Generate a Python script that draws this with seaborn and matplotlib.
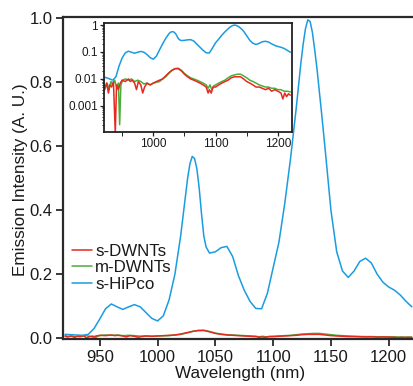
import matplotlib
matplotlib.use("Agg")
import matplotlib.pyplot as plt
import matplotlib.ticker as mticker
import pandas as pd
import seaborn as sns

# ---------------- data ----------------
hipco_wl = [920, 925, 930, 935, 940, 945, 950, 955, 960, 965, 970, 975, 980, 985, 990, 995,
            1000, 1005, 1010, 1015, 1020, 1024, 1026, 1028, 1030, 1032, 1034, 1036, 1038, 1040,
            1042, 1045, 1050, 1055, 1060, 1065, 1070, 1075, 1080, 1085, 1090, 1095, 1100, 1105,
            1110, 1115, 1120, 1124, 1126, 1128, 1130, 1132, 1134, 1136, 1138, 1140, 1142, 1145,
            1150, 1155, 1160, 1165, 1170, 1175, 1180, 1185, 1190, 1195, 1200, 1205, 1210, 1215,
            1220]
hipco_val = [0.012, 0.011, 0.010, 0.009, 0.012, 0.030, 0.060, 0.092, 0.107, 0.098, 0.090, 0.098,
             0.105, 0.098, 0.080, 0.062, 0.054, 0.070, 0.120, 0.200, 0.320, 0.440, 0.500, 0.545,
             0.568, 0.562, 0.530, 0.470, 0.390, 0.320, 0.285, 0.266, 0.270, 0.283, 0.287, 0.255,
             0.195, 0.150, 0.115, 0.093, 0.092, 0.140, 0.220, 0.300, 0.420, 0.560, 0.720, 0.860,
             0.920, 0.968, 0.995, 0.990, 0.955, 0.900, 0.840, 0.770, 0.700, 0.590, 0.400, 0.270,
             0.210, 0.190, 0.210, 0.240, 0.250, 0.235, 0.200, 0.175, 0.160, 0.150, 0.135, 0.115,
             0.098]

sdwnt_wl = [920, 922, 925, 928, 930, 933, 936, 939, 941, 944, 947, 950, 955, 960, 963, 966, 970,
            973, 976, 980, 983, 986, 990, 995, 1000, 1005, 1010, 1015, 1020, 1025, 1030, 1035,
            1040, 1045, 1050, 1055, 1060, 1065, 1070, 1075, 1080, 1085, 1088, 1090, 1093, 1096,
            1100, 1105, 1110, 1115, 1120, 1125, 1130, 1135, 1140, 1145, 1150, 1155, 1160, 1165,
            1170, 1175, 1180, 1185, 1190, 1195, 1200, 1205, 1208, 1211, 1214, 1217, 1220]
sdwnt_val = [0.006, 0.004, 0.007, 0.003, 0.006, 0.005, 0.008, 0.0001, 0.006, 0.004, 0.007, 0.009,
             0.008, 0.010, 0.008, 0.009, 0.007, 0.004, 0.008, 0.006, 0.003, 0.005, 0.007, 0.006,
             0.007, 0.008, 0.009, 0.010, 0.013, 0.017, 0.021, 0.024, 0.024, 0.020, 0.015, 0.012,
             0.010, 0.009, 0.008, 0.007, 0.006, 0.005, 0.003, 0.004, 0.003, 0.005, 0.005, 0.006,
             0.007, 0.008, 0.009, 0.011, 0.012, 0.012, 0.012, 0.010, 0.008, 0.007, 0.006, 0.005,
             0.005, 0.0045, 0.004, 0.0045, 0.0035, 0.004, 0.0035, 0.003, 0.0018, 0.003, 0.0022,
             0.0028, 0.0025]

mdwnt_wl = [920, 923, 926, 929, 932, 935, 938, 941, 944, 946, 948, 951, 955, 960, 965, 970, 975,
            980, 985, 990, 995, 1000, 1005, 1010, 1015, 1020, 1025, 1030, 1035, 1040, 1045, 1050,
            1055, 1060, 1065, 1070, 1075, 1080, 1085, 1088, 1091, 1094, 1097, 1100, 1105, 1110,
            1115, 1120, 1125, 1130, 1135, 1140, 1145, 1150, 1155, 1160, 1165, 1170, 1175, 1180,
            1185, 1190, 1195, 1200, 1205, 1210, 1215, 1220]
mdwnt_val = [0.008, 0.005, 0.007, 0.004, 0.008, 0.006, 0.009, 0.005, 0.007, 0.0002, 0.006, 0.009,
             0.010, 0.009, 0.010, 0.008, 0.009, 0.008, 0.0065, 0.007, 0.006, 0.007, 0.0075, 0.008,
             0.010, 0.012, 0.016, 0.021, 0.024, 0.025, 0.021, 0.016, 0.013, 0.011, 0.010, 0.009,
             0.008, 0.007, 0.006, 0.0045, 0.006, 0.004, 0.0055, 0.006, 0.007, 0.008, 0.009, 0.011,
             0.013, 0.014, 0.015, 0.015, 0.013, 0.011, 0.009, 0.008, 0.007, 0.006, 0.0055, 0.005,
             0.005, 0.0045, 0.0045, 0.004, 0.004, 0.0035, 0.0035, 0.0033]

series_names = ["s-DWNTs", "m-DWNTs", "s-HiPco"]
x_ticks = [950, 1000, 1050, 1100, 1150, 1200]
y_ticks = [0.0, 0.2, 0.4, 0.6, 0.8, 1.0]
inset_x_ticks = [1000, 1100, 1200]
inset_x_minor = [950, 1050, 1150]
inset_y_ticks = [0.001, 0.01, 0.1, 1]
inset_y_labels = ["0.001", "0.01", "0.1", "1"]

# ---------------- style ----------------
RED, GREEN, BLUE = "#e8281e", "#4cae3a", "#1a9ce0"
TXT = "#1a1a1a"
sns.set_style("ticks")
plt.rcParams["font.family"] = ["Liberation Sans", "DejaVu Sans"]
plt.rcParams["text.color"] = TXT
plt.rcParams["axes.labelcolor"] = TXT
plt.rcParams["xtick.labelcolor"] = TXT
plt.rcParams["ytick.labelcolor"] = TXT

df_s = pd.DataFrame({"wl": sdwnt_wl, "val": sdwnt_val})
df_m = pd.DataFrame({"wl": mdwnt_wl, "val": mdwnt_val})
df_h = pd.DataFrame({"wl": hipco_wl, "val": hipco_val})

fig = plt.figure(figsize=(4.13, 3.86), dpi=100)
ax = fig.add_axes([0.152, 0.1205, 0.848, 0.8355])

LW = 1.1
sns.lineplot(data=df_m, x="wl", y="val", color=GREEN, lw=LW, ax=ax, label=series_names[1])
sns.lineplot(data=df_s, x="wl", y="val", color=RED, lw=LW, ax=ax, label=series_names[0])
sns.lineplot(data=df_h, x="wl", y="val", color=BLUE, lw=LW, ax=ax, label=series_names[2])

ax.set_xlim(918, 1221)
ax.set_ylim(-0.004, 1.004)
ax.set_xticks(x_ticks)
ax.set_yticks(y_ticks)
ax.yaxis.set_major_formatter(mticker.FormatStrFormatter("%.1f"))
ax.set_xlabel("Wavelength (nm)", fontsize=12.3)
ax.set_ylabel("Emission Intensity (A. U.)", fontsize=12.3)
ax.xaxis.set_label_coords(0.506, -0.083)
ax.yaxis.set_label_coords(-0.10, 0.495)
for side in ["left", "bottom", "top"]:
    ax.spines[side].set_linewidth(1.6)
    ax.spines[side].set_color("#2a2a2a")
ax.spines["right"].set_visible(False)
ax.tick_params(direction="out", length=5, width=1.3, color="#2a2a2a",
               labelsize=12, pad=2.5, top=False, right=False)

handles, labels = ax.get_legend_handles_labels()
hmap = dict(zip(labels, handles))
ax.legend([hmap[n] for n in series_names], series_names, loc="center left",
          bbox_to_anchor=(0.0257, 0.2226), frameon=False, fontsize=12.2,
          handlelength=1.18, handletextpad=0.2, labelspacing=0.1,
          borderpad=0, borderaxespad=0)

# ---------------- inset ----------------
ax_in = fig.add_axes([0.252, 0.6588, 0.454, 0.2808])
ax_in.set_facecolor("white")
ax_in.set_yscale("log")
sns.lineplot(data=df_h, x="wl", y="val", color=BLUE, lw=LW, ax=ax_in, legend=False)
sns.lineplot(data=df_m, x="wl", y="val", color=GREEN, lw=LW, ax=ax_in, legend=False)
sns.lineplot(data=df_s, x="wl", y="val", color=RED, lw=LW, ax=ax_in, legend=False)
ax_in.set_xlim(921, 1222)
ax_in.set_ylim(1.1e-4, 1.16)
ax_in.set_xlabel("")
ax_in.set_ylabel("")
ax_in.set_xticks(inset_x_ticks)
ax_in.set_xticks(inset_x_minor, minor=True)
ax_in.yaxis.set_major_locator(mticker.FixedLocator(inset_y_ticks))
ax_in.yaxis.set_major_formatter(mticker.FixedFormatter(inset_y_labels))
ax_in.yaxis.set_minor_locator(mticker.LogLocator(base=10, subs=range(2, 10), numticks=20))
ax_in.yaxis.set_minor_formatter(mticker.NullFormatter())
for side in ax_in.spines.values():
    side.set_linewidth(1.3)
    side.set_color("#222222")
ax_in.tick_params(which="major", direction="out", length=3, width=0.9, color="#222222",
                  labelsize=8.5, pad=1.5)
ax_in.tick_params(which="minor", direction="out", length=1.8, width=0.7, color="#222222")
ax_in.tick_params(axis="x", which="minor", length=3)

fig.savefig("out.png", dpi=100)
